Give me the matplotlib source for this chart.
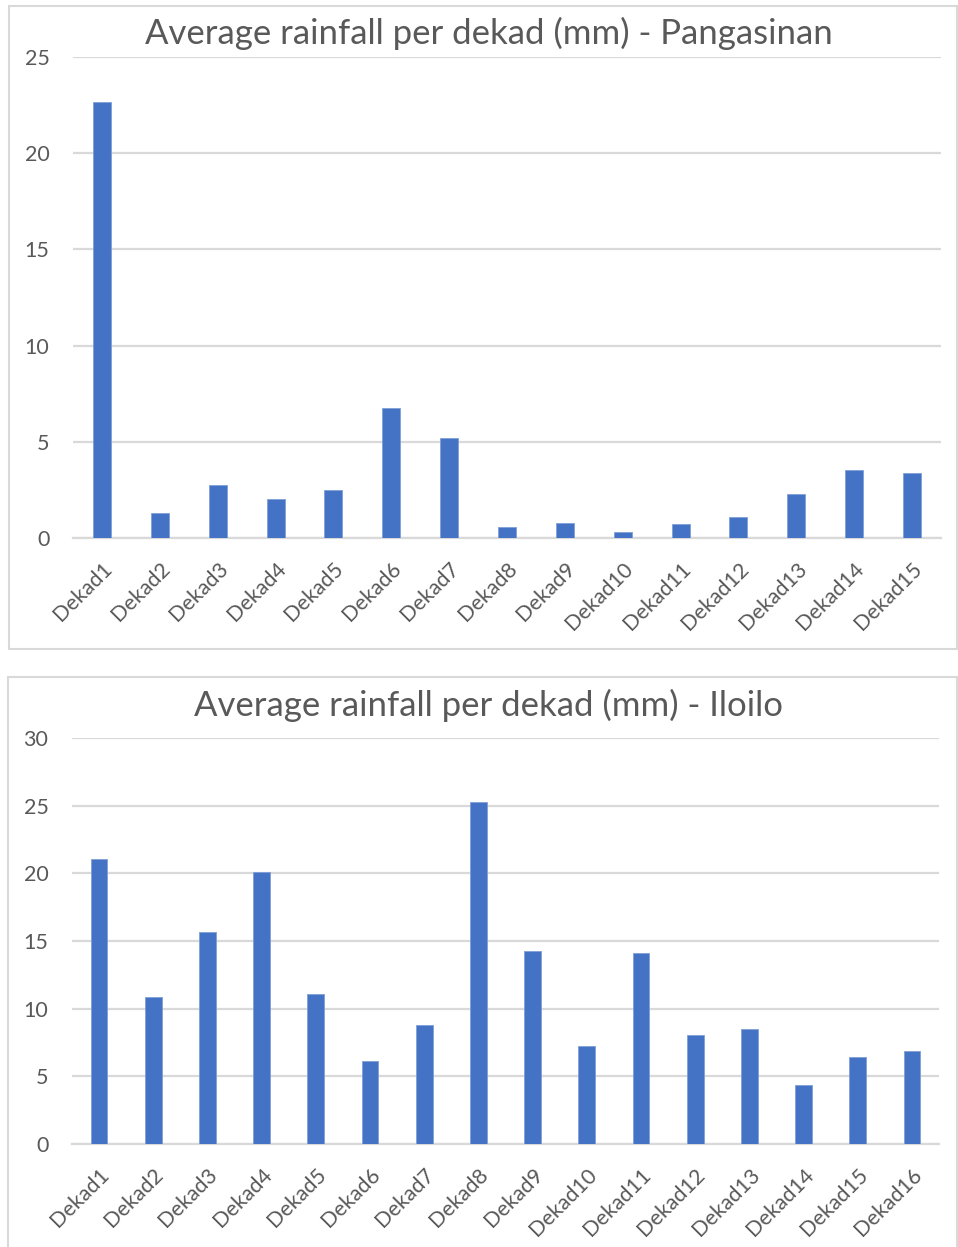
import matplotlib
matplotlib.use('Agg')
import matplotlib.pyplot as plt
from matplotlib.patches import Rectangle

# average rainfall per dekad (mm)
pang_labels = [f'Dekad{i}' for i in range(1, 16)]
pang_values = [22.65, 1.31, 2.75, 2.04, 2.51, 6.74, 5.2, 0.57, 0.76, 0.31,
               0.74, 1.07, 2.29, 3.52, 3.39]

iloilo_labels = [f'Dekad{i}' for i in range(1, 17)]
iloilo_values = [21.05, 10.86, 15.64, 20.1, 11.08, 6.11, 8.8, 25.27, 14.24, 7.24,
                 14.11, 8.08, 8.47, 4.33, 6.45, 6.9]

pang_ticks = [0, 5, 10, 15, 20, 25]
iloilo_ticks = [0, 5, 10, 15, 20, 25, 30]

plt.rcParams['font.family'] = ['Lato', 'DejaVu Sans']
txt = '#595959'
grid = '#d9d9d9'
bar_color = '#4472C4'

W, H = 958, 1247
fig = plt.figure(figsize=(W / 100, H / 100), dpi=100)


def px_box(x0, y0, x1, y1):
    # pixel box -> figure fraction [left, bottom, width, height]
    return [x0 / W, 1 - y1 / H, (x1 - x0) / W, (y1 - y0) / H]


def draw_panel(box, labels, values, ticks, title, title_xy):
    ax = fig.add_axes(box)
    x = range(len(values))
    ax.bar(x, values, width=0.31, color=bar_color, edgecolor='#7f9fd8', linewidth=0.6, zorder=3)
    ax.set_xlim(-0.5, len(values) - 0.5)
    ax.set_ylim(ticks[0], ticks[-1])
    ax.set_yticks(ticks)
    ax.yaxis.grid(True, color=grid, linewidth=1.6, zorder=0)
    for s in ['top', 'right', 'left']:
        ax.spines[s].set_visible(False)
    ax.spines['bottom'].set_color(grid)
    ax.spines['bottom'].set_linewidth(1.6)
    ax.tick_params(axis='both', length=0, colors=txt, labelsize=15.5)
    ax.tick_params(axis='y', pad=17)
    ax.set_xticks(list(x))
    ax.set_xticklabels(labels, rotation=45, ha='right', va='top', rotation_mode='anchor')
    ax.tick_params(axis='x', pad=15)
    fig.text(title_xy[0] / W, 1 - title_xy[1] / H, title, ha='center', va='center',
             fontsize=25, color=txt)
    return ax


# panel frames
fig.patches.append(Rectangle((9 / W, 1 - 649 / H), 948 / W, 643 / H, transform=fig.transFigure,
                             fill=False, edgecolor=grid, linewidth=1.5))
fig.patches.append(Rectangle((8 / W, 1 - 1260 / H), 949 / W, 583 / H, transform=fig.transFigure,
                             fill=False, edgecolor=grid, linewidth=1.5))

draw_panel(px_box(73, 57, 941, 538), pang_labels, pang_values, pang_ticks,
           'Average rainfall per dekad (mm) - Pangasinan', (489, 33))
draw_panel(px_box(72, 738, 939, 1144), iloilo_labels, iloilo_values, iloilo_ticks,
           'Average rainfall per dekad (mm) - Iloilo', (489, 705))

fig.savefig('out.png', dpi=100)
